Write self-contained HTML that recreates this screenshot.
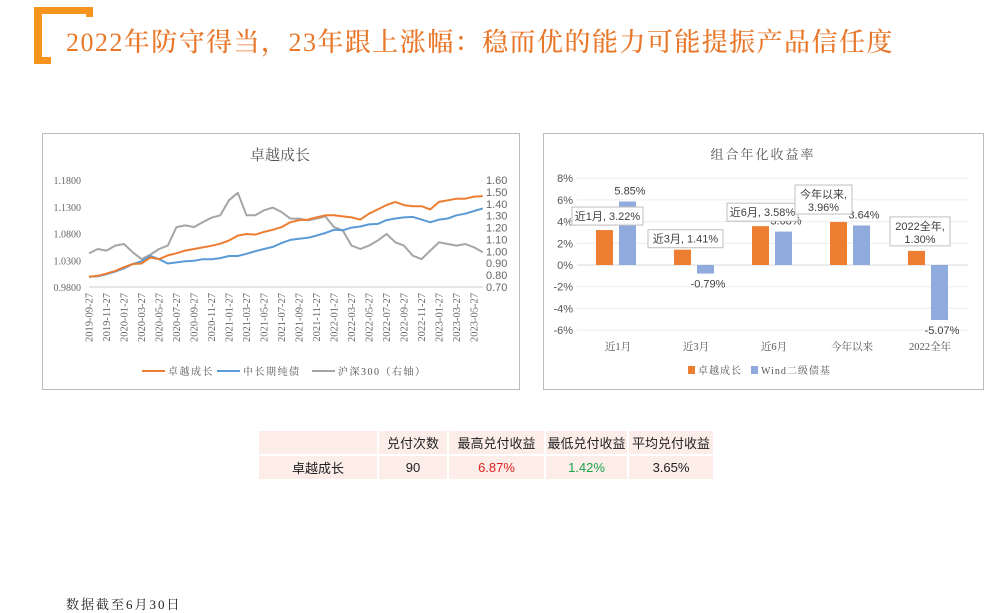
<!DOCTYPE html>
<html><head><meta charset="utf-8">
<style>
body{margin:0;width:1000px;height:609px;background:#fff;position:relative;overflow:hidden;font-family:"Liberation Sans","Noto Sans CJK SC",sans-serif;}
.abs{position:absolute}
#title{left:66px;top:22px;font-family:"Liberation Serif","Noto Serif CJK SC",serif;font-size:26px;color:#e8772a;letter-spacing:1.45px;white-space:nowrap;font-weight:500}
table{border-collapse:collapse}
td{background:#fcede9;border:2px solid #fff;text-align:center;font-size:13px;color:#222;height:23px;padding:0}
</style></head><body>
<div class="abs" style="left:34px;top:7px;width:59px;height:7px;background:#f7941d"></div>
<div class="abs" style="left:34px;top:7px;width:8px;height:57px;background:#f7941d"></div>
<div class="abs" style="left:86px;top:7px;width:7px;height:10px;background:#f7941d"></div>
<div class="abs" style="left:34px;top:57px;width:17px;height:7px;background:#f7941d"></div>
<div id="title" class="abs">2022年防守得当，23年跟上涨幅：稳而优的能力可能提振产品信任度</div>

<svg class="abs" style="left:0;top:0" width="1000" height="420">
<g id="lc"></g>
<g id="bc"></g>
</svg>

<table class="abs" style="left:257px;top:429px;width:458px">
<tr><td style="width:118px"></td><td style="width:68px">兑付次数</td><td style="width:95px">最高兑付收益</td><td style="width:81px">最低兑付收益</td><td>平均兑付收益</td></tr>
<tr><td>卓越成长</td><td>90</td><td style="color:#e02020">6.87%</td><td style="color:#1aa34a">1.42%</td><td>3.65%</td></tr>
</table>
<div class="abs" style="left:66px;top:594px;font-family:'Liberation Serif','Noto Serif CJK SC',serif;font-size:13px;color:#222;letter-spacing:2px">数据截至6月30日</div>

<script>
const xTickLabels=["2019-09-27","2019-11-27","2020-01-27","2020-03-27","2020-05-27","2020-07-27","2020-09-27","2020-11-27","2021-01-27","2021-03-27","2021-05-27","2021-07-27","2021-09-27","2021-11-27","2022-01-27","2022-03-27","2022-05-27","2022-07-27","2022-09-27","2022-11-27","2023-01-27","2023-03-27","2023-05-27"];
const leftTicks=[0.98,1.03,1.08,1.13,1.18];
const rightTicks=[0.70,0.80,0.90,1.00,1.10,1.20,1.30,1.40,1.50,1.60];
const zhuoyue=[0.999,1.001,1.005,1.010,1.017,1.023,1.024,1.035,1.032,1.039,1.043,1.048,1.051,1.054,1.057,1.061,1.067,1.076,1.079,1.078,1.083,1.087,1.092,1.101,1.105,1.106,1.110,1.114,1.114,1.112,1.110,1.106,1.117,1.125,1.133,1.139,1.133,1.131,1.131,1.125,1.139,1.142,1.145,1.145,1.149,1.150];
const bondIdx=[0.999,1.000,1.004,1.009,1.015,1.023,1.028,1.038,1.032,1.024,1.026,1.028,1.029,1.032,1.032,1.034,1.038,1.038,1.042,1.047,1.051,1.055,1.062,1.068,1.070,1.072,1.076,1.081,1.087,1.086,1.091,1.093,1.097,1.098,1.105,1.108,1.110,1.111,1.106,1.101,1.106,1.108,1.114,1.117,1.122,1.127];
const hs300=[0.983,1.020,1.006,1.048,1.062,0.992,0.935,0.972,1.020,1.048,1.204,1.218,1.204,1.246,1.283,1.303,1.430,1.492,1.303,1.303,1.345,1.368,1.331,1.275,1.275,1.260,1.275,1.294,1.204,1.176,1.048,1.020,1.048,1.091,1.147,1.076,1.048,0.963,0.935,1.006,1.076,1.062,1.048,1.062,1.034,0.992];

const barCats=["近1月","近3月","近6月","今年以来","2022全年"];
const barZY=[3.22,1.41,3.58,3.96,1.30];
const barWind=[5.85,-0.79,3.08,3.64,-5.07];
const barTicks=[-6,-4,-2,0,2,4,6,8];

const NS="http://www.w3.org/2000/svg";
function mk(p,t,a,txt){const e=document.createElementNS(NS,t);for(const k in a)e.setAttribute(k,a[k]);if(txt!==undefined)e.textContent=txt;p.appendChild(e);return e;}
const serif='"Liberation Serif","Noto Serif CJK SC",serif';
const sans='"Liberation Sans","Noto Sans CJK SC",sans-serif';

// ---- line chart
const lc=document.getElementById('lc');
let r=mk(lc,'rect',{x:42.5,y:133.5,width:477,height:256,fill:'#fff',stroke:'#bbb'});

let t=mk(lc,'text',{x:280,y:160,'text-anchor':'middle','font-size':15,fill:'#555','font-family':serif},'卓越成长');

const X0=89,DX=8.75;
const xM=i=>X0+i*DX;
const yL=v=>180+(1.18-v)/0.2*107;
const yR=v=>180+(1.60-v)/0.9*107;
leftTicks.forEach(v=>{const e=mk(lc,'text',{x:81,y:yL(v)+4,'text-anchor':'end','font-size':10,fill:'#666','font-family':serif},v.toFixed(4));
});
rightTicks.forEach(v=>{const e=mk(lc,'text',{x:486,y:yR(v)+4,'font-size':11,fill:'#666','font-family':sans},v.toFixed(2));
});
mk(lc,'line',{x1:X0,y1:287,x2:483,y2:287,stroke:'#ccc'});
xTickLabels.forEach((s,i)=>{const x=xM(i*2)+3.5;const e=mk(lc,'text',{x:0,y:0,transform:`translate(${x},293) rotate(-90)`,'text-anchor':'end','font-size':10.5,fill:'#666','font-family':serif},s);
});
function line(arr,yf,col,name){const d=arr.map((v,i)=>(i?'L':'M')+xM(i).toFixed(1)+','+yf(v).toFixed(1)).join('');
const p=mk(lc,'path',{d:d,fill:'none',stroke:col,'stroke-width':2,'stroke-linejoin':'round'});
}
line(hs300,yR,'#a5a5a5','hs300-line');
line(bondIdx,yL,'#5b9bd5','bond-index-line');
line(zhuoyue,yL,'#ed7d31','zhuoyue-line');
[[142,'#ed7d31','卓越成长'],[217,'#5b9bd5','中长期纯债'],[312,'#a5a5a5','沪深300（右轴）']].forEach(([x,c,s])=>{
const l=mk(lc,'line',{x1:x,y1:371,x2:x+23,y2:371,stroke:c,'stroke-width':2});

const e=mk(lc,'text',{x:x+26,y:375,'font-size':10,fill:'#555','font-family':serif,'letter-spacing':1.5},s);
});

// ---- bar chart
const bc=document.getElementById('bc');
r=mk(bc,'rect',{x:543.5,y:133.5,width:440,height:256,fill:'#fff',stroke:'#bbb'});

t=mk(bc,'text',{x:763,y:159,'text-anchor':'middle','font-size':13,fill:'#555','font-family':serif,'letter-spacing':2},'组合年化收益率');

const yB=v=>265-v*10.85;
const PL=579,CW=78;
barTicks.forEach(v=>{mk(bc,'line',{x1:PL-2,y1:yB(v),x2:968,y2:yB(v),stroke:v===0?'#d9d9d9':'#ececec'});
const e=mk(bc,'text',{x:573,y:yB(v)+4,'text-anchor':'end','font-size':11,fill:'#555','font-family':sans},v+'%');
});
const callout=[[-46,-23,1],[-48,-20,1],[-47,-23,1],[-57,-37,2],[-40,-34,2]];
barCats.forEach((c,i)=>{const cx=PL+CW*i+CW/2;
const e=mk(bc,'text',{x:cx,y:350,'text-anchor':'middle','font-size':10.5,fill:'#555','font-family':serif},c);

const v1=barZY[i],v2=barWind[i];
const b1=mk(bc,'rect',{x:cx-22,y:Math.min(yB(v1),yB(0)),width:17,height:Math.abs(yB(v1)-yB(0)),fill:'#ed7d31'});

const b2=mk(bc,'rect',{x:cx+1,y:Math.min(yB(v2),yB(0)),width:17,height:Math.abs(yB(v2)-yB(0)),fill:'#8faadc'});

const ly=v2>=0?yB(v2)-7:yB(v2)+14;
const l2=mk(bc,'text',{x:cx+12,y:ly,'text-anchor':'middle','font-size':11,fill:'#404040','font-family':sans},v2.toFixed(2)+'%');

const [ox,oy,lines]=callout[i];const by=yB(v1)+oy;const bx=cx+ox;
const txt1=lines===1?c+', '+v1.toFixed(2)+'%':c+',';
const w=lines===1?(i===1?75:71):(i===3?57:60);const h=lines===1?18:29;
const box=mk(bc,'rect',{x:bx,y:by,width:w,height:h,fill:'#fff',stroke:'#bfbfbf'});

const a=mk(bc,'text',{x:bx+w/2,y:by+13,'text-anchor':'middle','font-size':11,fill:'#404040','font-family':sans},txt1);

if(lines===2){const b=mk(bc,'text',{x:bx+w/2,y:by+26,'text-anchor':'middle','font-size':11,fill:'#404040','font-family':sans},v1.toFixed(2)+'%');
}
});
[[688,'#ed7d31','卓越成长'],[751,'#8faadc','Wind二级债基']].forEach(([x,c,s])=>{
const q=mk(bc,'rect',{x:x,y:366,width:7,height:8,fill:c});

const e=mk(bc,'text',{x:x+10,y:374,'font-size':10,fill:'#555','font-family':serif,'letter-spacing':1},s);
});
</script>
</body></html>
